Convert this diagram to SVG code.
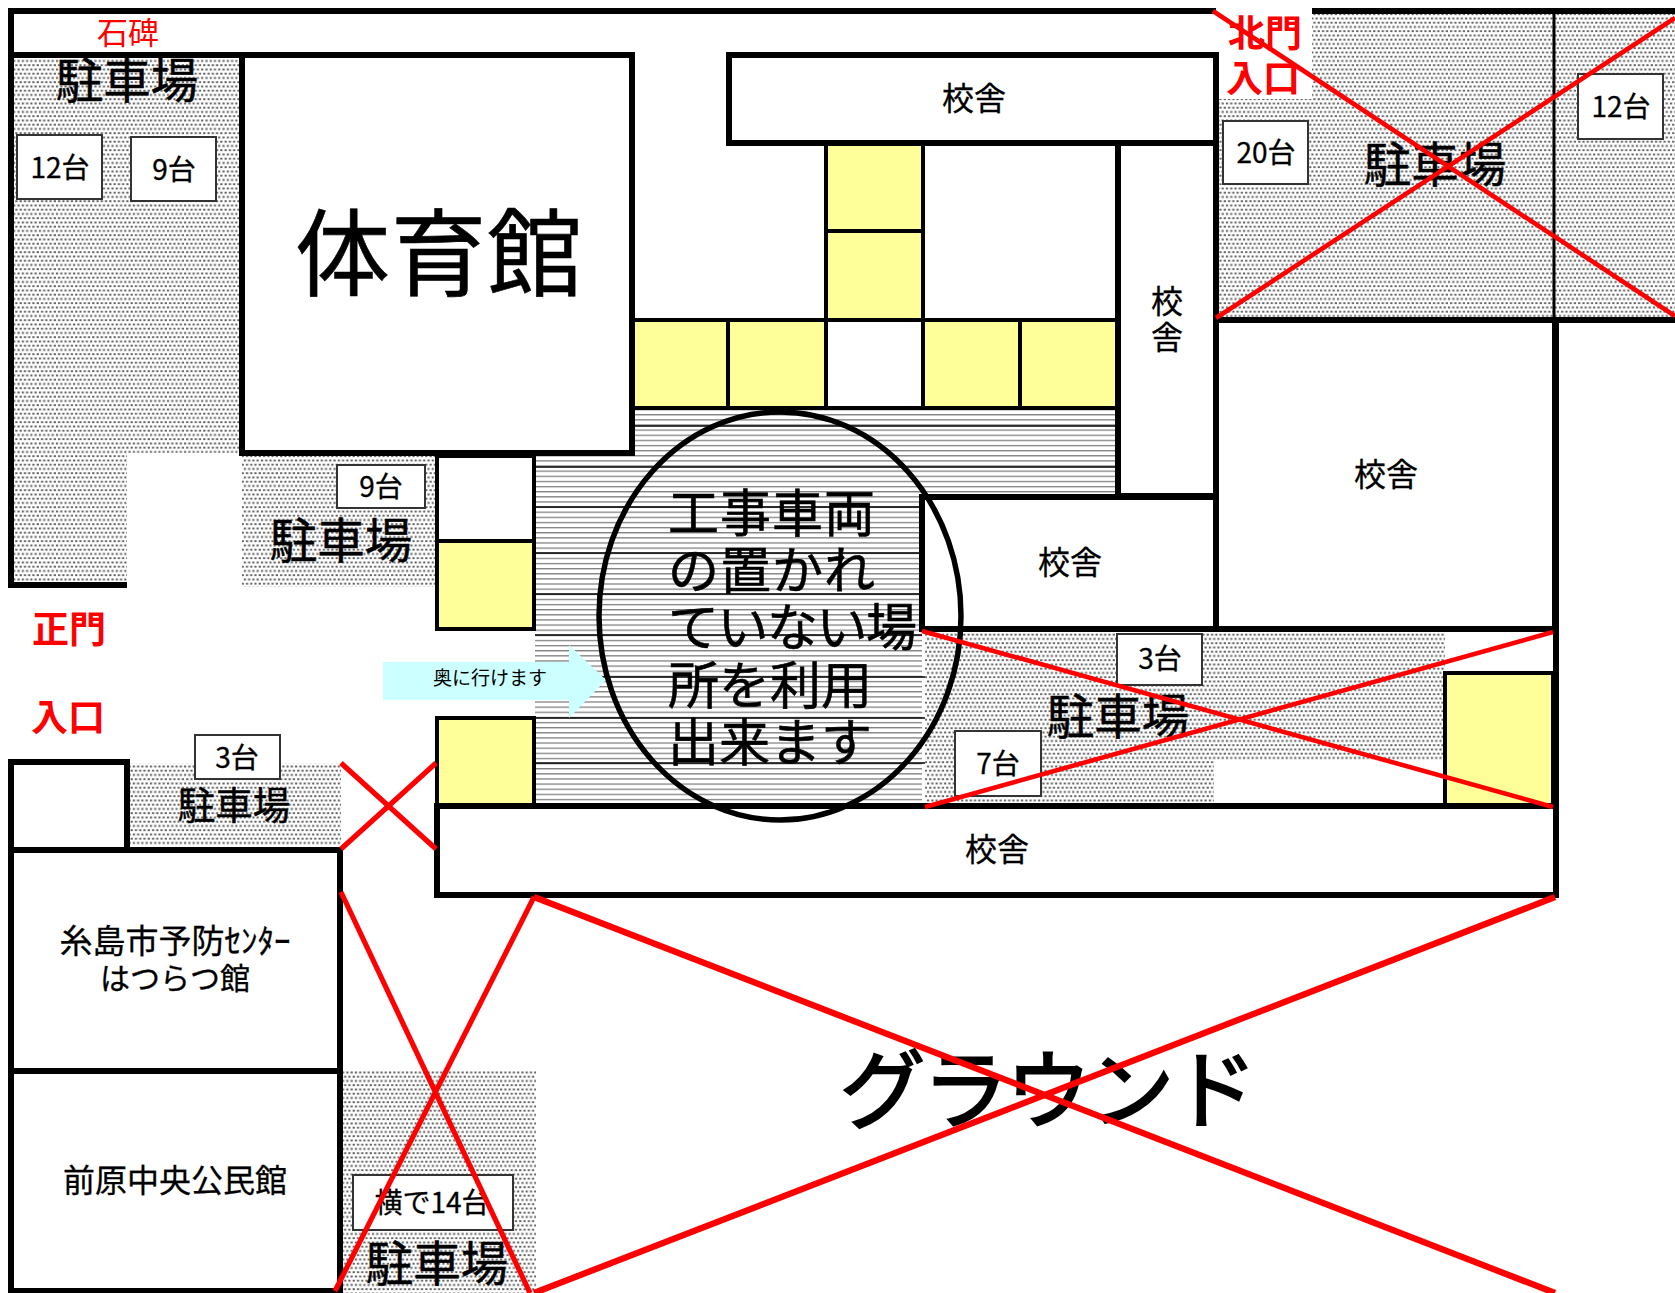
<svg xmlns="http://www.w3.org/2000/svg" width="1675" height="1293" viewBox="0 0 1675 1293">
<style>
text{font-family:"Noto Sans CJK JP","Noto Sans CJK SC",sans-serif;fill:#000;text-anchor:middle}
.wall{fill:none;stroke:#000;stroke-width:6}
.bld{fill:#fff;stroke:#000;stroke-width:6}
.yel{fill:#ffff99;stroke:#000;stroke-width:4}
.wht{fill:#fff;stroke:#000;stroke-width:4}
.dots{fill:url(#stipple)}
.hatch{fill:url(#hlines)}
.count{fill:#fff;stroke:#333;stroke-width:2}
.x{stroke:#ff0000;stroke-width:4.6;fill:none}
.xm{stroke-width:5.2}
.xl{stroke-width:6.3}
.hl{stroke:#000;stroke-width:1.6}
.red{fill:#ff0000}
.redb{fill:#ff0000;font-weight:700;font-size:37px}
.c28{font-size:28px;stroke:#000;stroke-width:.3}
.c32{font-size:32px;stroke:#000;stroke-width:.3}
.p48{font-size:47.5px;stroke:#000;stroke-width:.5}
.big{stroke:#000;stroke-width:.6}
</style>
<defs>
<pattern id="stipple" patternUnits="userSpaceOnUse" width="8.54" height="8.5">
<rect width="8.54" height="8.5" fill="#fff"/>
<rect x="0.4" y="0.5" width="2.2" height="1.9" fill="#606060"/>
<rect x="4.67" y="0.5" width="2.2" height="1.9" fill="#606060"/>
<rect x="2.5" y="4.75" width="2.2" height="1.9" fill="#606060"/>
<rect x="6.77" y="4.75" width="1.77" height="1.9" fill="#606060"/>
<rect x="0" y="4.75" width="0.43" height="1.9" fill="#606060"/>
</pattern>
<pattern id="hlines" patternUnits="userSpaceOnUse" width="10" height="5.13" patternTransform="translate(0,3.7)">
<rect width="10" height="5.13" fill="#fff"/>
<rect y="0" width="10" height="1.3" fill="#808080"/>
</pattern>
</defs>
<rect width="1675" height="1293" fill="#fff"/>

<g id="parking-areas">
<path class="dots" d="M14 58H239V453H127V582H14Z"/>
<rect class="dots" x="242" y="456" width="194" height="131"/>
<path class="dots" d="M1218 99H1312V14H1675V317H1218Z"/>
<path class="dots" d="M925 632H1445V761H1214V803H925Z"/>
<rect class="dots" x="130" y="763" width="211" height="83"/>
<rect class="dots" x="343" y="1071" width="193" height="222"/>
</g>

<g id="hatched-yard">
<path class="hatch" d="M635 408H1117V496H922V805H535V456H635Z"/>
<g id="yard-lines">
<line class="hl" x1="635" y1="426" x2="1117" y2="426"/>
<line class="hl" x1="535" y1="467" x2="1117" y2="467"/>
<line class="hl" x1="535" y1="507" x2="922" y2="507"/>
<line class="hl" x1="535" y1="553" x2="922" y2="553"/>
<line class="hl" x1="535" y1="594" x2="922" y2="594"/>
<line class="hl" x1="535" y1="635" x2="922" y2="635"/>
<line class="hl" x1="535" y1="677" x2="925" y2="677"/>
<line class="hl" x1="535" y1="718" x2="925" y2="718"/>
<line class="hl" x1="535" y1="763" x2="925" y2="763"/>
</g>
</g>

<g id="outer-walls">
<path class="wall" d="M1216 11H11V585H127"/>
<line class="wall" x1="11" y1="55" x2="242" y2="55"/>
<line class="wall" x1="1312" y1="11" x2="1675" y2="11"/>
<line class="wall" x1="1216" y1="320" x2="1675" y2="320"/>
<line x1="1554" y1="14" x2="1554" y2="318" stroke="#000" stroke-width="3"/>
</g>

<g id="walkways">
<rect class="wht" x="437" y="456" width="97" height="85"/>
<rect class="yel" x="437" y="541" width="97" height="88"/>
<rect class="yel" x="437" y="718" width="97" height="87"/>
<rect class="yel" x="632" y="320" width="96" height="88"/>
<rect class="yel" x="728" y="320" width="98" height="88"/>
<rect class="wht" x="826" y="320" width="97" height="88"/>
<rect class="yel" x="923" y="320" width="97" height="88"/>
<rect class="yel" x="1020" y="320" width="97" height="88"/>
<rect class="yel" x="826" y="143" width="97" height="88"/>
<rect class="yel" x="826" y="231" width="97" height="89"/>
<rect class="yel" x="1445" y="673" width="108" height="132"/>
</g>

<g id="gym"><rect class="bld" x="242" y="55" width="390" height="398"/>
<text class="big" x="439" y="289" font-size="95" letter-spacing="1">体育館</text></g>

<g id="school-top"><rect class="bld" x="729" y="55" width="487" height="88"/>
<text class="c32" x="974" y="110">校舎</text></g>
<g id="school-right"><rect class="bld" x="1118" y="143" width="98" height="353"/>
<text class="c32" x="1167" y="313">校</text><text class="c32" x="1167" y="349">舎</text></g>
<g id="school-big"><rect class="bld" x="1216" y="320" width="339" height="309"/>
<text class="c32" x="1386" y="486">校舎</text></g>
<g id="school-center"><rect class="bld" x="922" y="497" width="294" height="132"/>
<text class="c32" x="1070" y="574">校舎</text></g>
<g id="school-bottom"><rect class="bld" x="437" y="806" width="1119" height="89"/>
<text class="c32" x="997" y="861">校舎</text></g>
<line class="wall" x1="1556" y1="320" x2="1556" y2="895"/>

<g id="small-building"><rect class="bld" x="11" y="762" width="116" height="88"/></g>
<g id="hatsuratsu"><rect class="bld" x="11" y="850" width="329" height="221"/>
<text class="c32" x="175" y="953" style="font-size:33px">糸島市予防ｾﾝﾀｰ</text>
<text class="c32" x="175" y="989" style="font-size:30px">はつらつ館</text></g>
<g id="kominkan"><rect class="bld" x="11" y="1071" width="329" height="220"/>
<text class="c32" x="175" y="1192">前原中央公民館</text></g>

<g id="arrow"><path d="M383 662H569V645L606 680L569 718V700H383Z" fill="#ccffff"/>
<text x="490" y="685" font-size="19">奥に行けます</text></g>

<g id="count-labels">
<g id="c1"><rect class="count" x="17" y="135" width="85" height="64"/><text class="c28" x="60" y="178">12台</text></g>
<g id="c2"><rect class="count" x="131" y="137" width="85" height="64"/><text class="c28" x="174" y="180">9台</text></g>
<g id="c3"><rect class="count" x="337" y="465" width="88" height="43"/><text class="c28" x="381" y="497">9台</text></g>
<g id="c4"><rect class="count" x="1223" y="121" width="85" height="63"/><text class="c28" x="1266" y="163">20台</text></g>
<g id="c5"><rect class="count" x="1578" y="74" width="85" height="65"/><text class="c28" x="1621" y="117">12台</text></g>
<g id="c6"><rect class="count" x="1117" y="634" width="85" height="51"/><text class="c28" x="1160" y="669">3台</text></g>
<g id="c7"><rect class="count" x="955" y="731" width="86" height="65"/><text class="c28" x="998" y="774">7台</text></g>
<g id="c8"><rect class="count" x="195" y="735" width="85" height="44"/><text class="c28" x="237" y="768">3台</text></g>
<g id="c9"><rect class="count" x="353" y="1175" width="160" height="55"/><text class="c28" x="432" y="1213">横で14台</text></g>
</g>

<g id="parking-labels">
<text class="p48" x="127" y="98">駐車場</text>
<text class="p48" x="341" y="558">駐車場</text>
<text class="p48" x="1435" y="182">駐車場</text>
<text class="p48" x="1118" y="734">駐車場</text>
<text class="p48" x="234" y="819" style="font-size:37.5px">駐車場</text>
<text class="p48" x="437" y="1281">駐車場</text>
</g>

<g id="big-labels">
<text class="big" x="1047" y="1122" font-size="86" letter-spacing="-3" style="stroke-width:2">グラウンド</text>
</g>

<g id="place-labels">
<text class="red" x="128" y="44" font-size="31">石碑</text>
<text class="redb" x="69" y="643">正門</text>
<text class="redb" x="68" y="731">入口</text>
<text class="redb" x="1265" y="47">北門</text>
<text class="redb" x="1263" y="92">入口</text>
</g>

<g id="notice">
<ellipse cx="780" cy="616" rx="181" ry="204" fill="none" stroke="#000" stroke-width="5.5"/>
<g font-size="51" class="big">
<text style="text-anchor:start" x="668" y="532" letter-spacing="1">工事車両</text>
<text style="text-anchor:start" x="668" y="589" letter-spacing="1">の置かれ</text>
<text style="text-anchor:start" x="668" y="646" letter-spacing="-1.5">ていない場</text>
<text style="text-anchor:start" x="668" y="704">所を利用</text>
<text style="text-anchor:start" x="668" y="761">出来ます</text>
</g>
</g>

<g id="crosses">
<line class="x" x1="1213" y1="11" x2="1675" y2="316"/>
<line class="x" x1="1216" y1="318" x2="1675" y2="18"/>
<line class="x" x1="922" y1="631" x2="1553" y2="807"/>
<line class="x" x1="925" y1="807" x2="1553" y2="632"/>
<line class="x xm" x1="341" y1="763" x2="436" y2="849"/>
<line class="x xm" x1="436" y1="763" x2="341" y2="849"/>
<line class="x xm" x1="341" y1="892" x2="530" y2="1293"/>
<line class="x xm" x1="534" y1="897" x2="335" y2="1291"/>
<line class="x xl" x1="534" y1="897" x2="1555" y2="1293"/>
<line class="x xl" x1="1555" y1="897" x2="534" y2="1293"/>
</g>
</svg>
